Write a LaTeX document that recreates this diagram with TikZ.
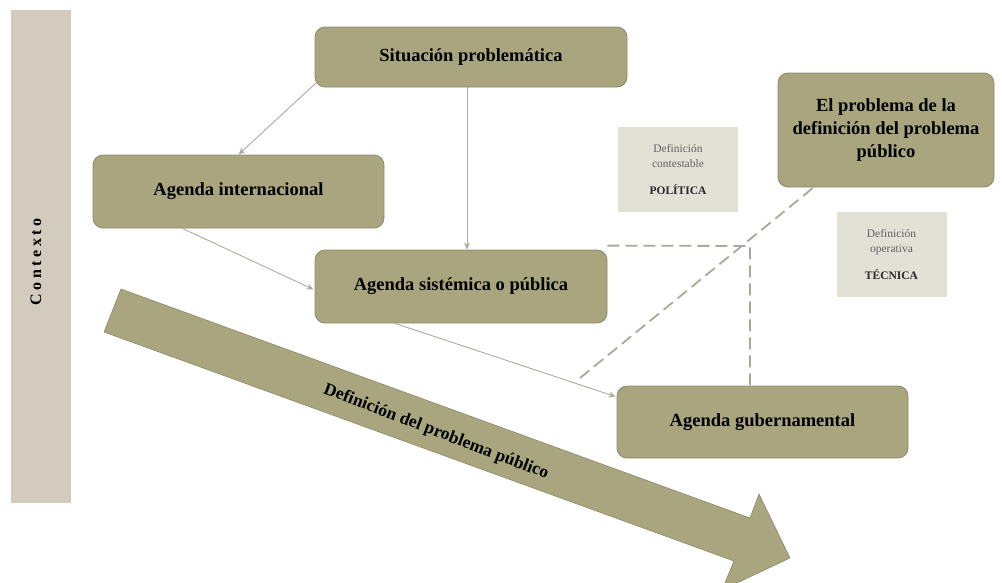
\documentclass[tikz,border=0pt]{standalone}
\usepackage{fontspec}
\setmainfont{Liberation Serif}
\newfontfamily\spacedfont[LetterSpace=22]{Liberation Serif}
\usetikzlibrary{calc,arrows.meta}
\definecolor{olivebox}{HTML}{A9A57E}
\definecolor{oliveedge}{HTML}{8C8A6C}
\definecolor{ctxbar}{HTML}{D3CBBE}
\definecolor{notebox}{HTML}{E1E1D6}
\definecolor{linkgray}{HTML}{ABABA3}
\definecolor{dashgray}{HTML}{A8A89E}
\begin{document}
\begin{tikzpicture}[x=1pt,y=-1pt,
  agenda/.style={draw=oliveedge,line width=0.8pt,fill=olivebox,rounded corners=10pt,
    align=center,inner sep=0pt,font=\bfseries\fontsize{18.5}{23}\selectfont},
  notebx/.style={fill=notebox,align=center,inner sep=0pt,
    font=\fontsize{11.5}{15}\selectfont,text=black!62},
  link/.style={draw=linkgray,line width=0.9pt,-{Stealth[length=7pt,width=6pt]}},
  dashlink/.style={draw=dashgray,line width=1.8pt,dash pattern=on 12pt off 6pt}]
\useasboundingbox (0,0) rectangle (1002,582);

% context column
\fill[ctxbar] (11,10) rectangle (71,503);
\node[rotate=90,font=\spacedfont\bfseries\fontsize{16}{18}\selectfont] (ctx) at (36,262) {Contexto};

% large diagonal arrow
\fill[olivebox,draw=oliveedge,line width=0.6pt]
  (121,289) -- (750,518) -- (759,494) -- (790,558) -- (722,590) -- (734,561) -- (104,332) -- cycle;
\node[rotate=-21,font=\bfseries\fontsize{17.5}{20}\selectfont] (dlabel) at (436,432)
  {Definición del problema público};

% boxes
\node[agenda,minimum width=312pt,minimum height=60pt] (sit) at (471,57) {Situación problemática};
\node[agenda,minimum width=291pt,minimum height=73pt] (intl) at (238.5,191.5) {Agenda internacional};
\node[agenda,minimum width=292pt,minimum height=73pt] (sys) at (461,286.5) {Agenda sistémica o pública};
\node[agenda,minimum width=291pt,minimum height=72pt] (gov) at (762.5,422) {Agenda gubernamental};
\node[agenda,minimum width=216pt,minimum height=114pt] (prob) at (886,130)
  {El problema de la\\definición del problema\\público};

% notes
\node[notebx,minimum width=120pt,minimum height=85pt] (pol) at (678,169.5)
  {Definición\\contestable\\[12pt]{\bfseries\color{black!85}POLÍTICA}};
\node[notebx,minimum width=110pt,minimum height=85pt] (tec) at (891.5,254.5)
  {Definición\\operativa\\[12pt]{\bfseries\color{black!85}TÉCNICA}};

% connectors
\draw[link] ($(sit.south west)+(2,-5)$) -- (intl.north);
\draw[link] ($(sit.south)+(-4,0)$) -- ($(sys.north)+(6,0)$);
\draw[link] ($(intl.south)+(-56,0)$) -- ($(sys.west)+(-1,3)$);
\draw[link] ($(sys.south)+(-66,0)$) -- ($(gov.north west)+(-1,11)$);

% dashed relations
\coordinate (corner) at (750,246);
\coordinate (dstart) at (580,378);
\draw[dashlink] ($(sys.north east)+(0,-4)$) -- (corner) -- (corner |- gov.north);
\draw[dashlink] (dstart) -- ($(prob.south west)+(36,0)$);
\end{tikzpicture}
\end{document}
